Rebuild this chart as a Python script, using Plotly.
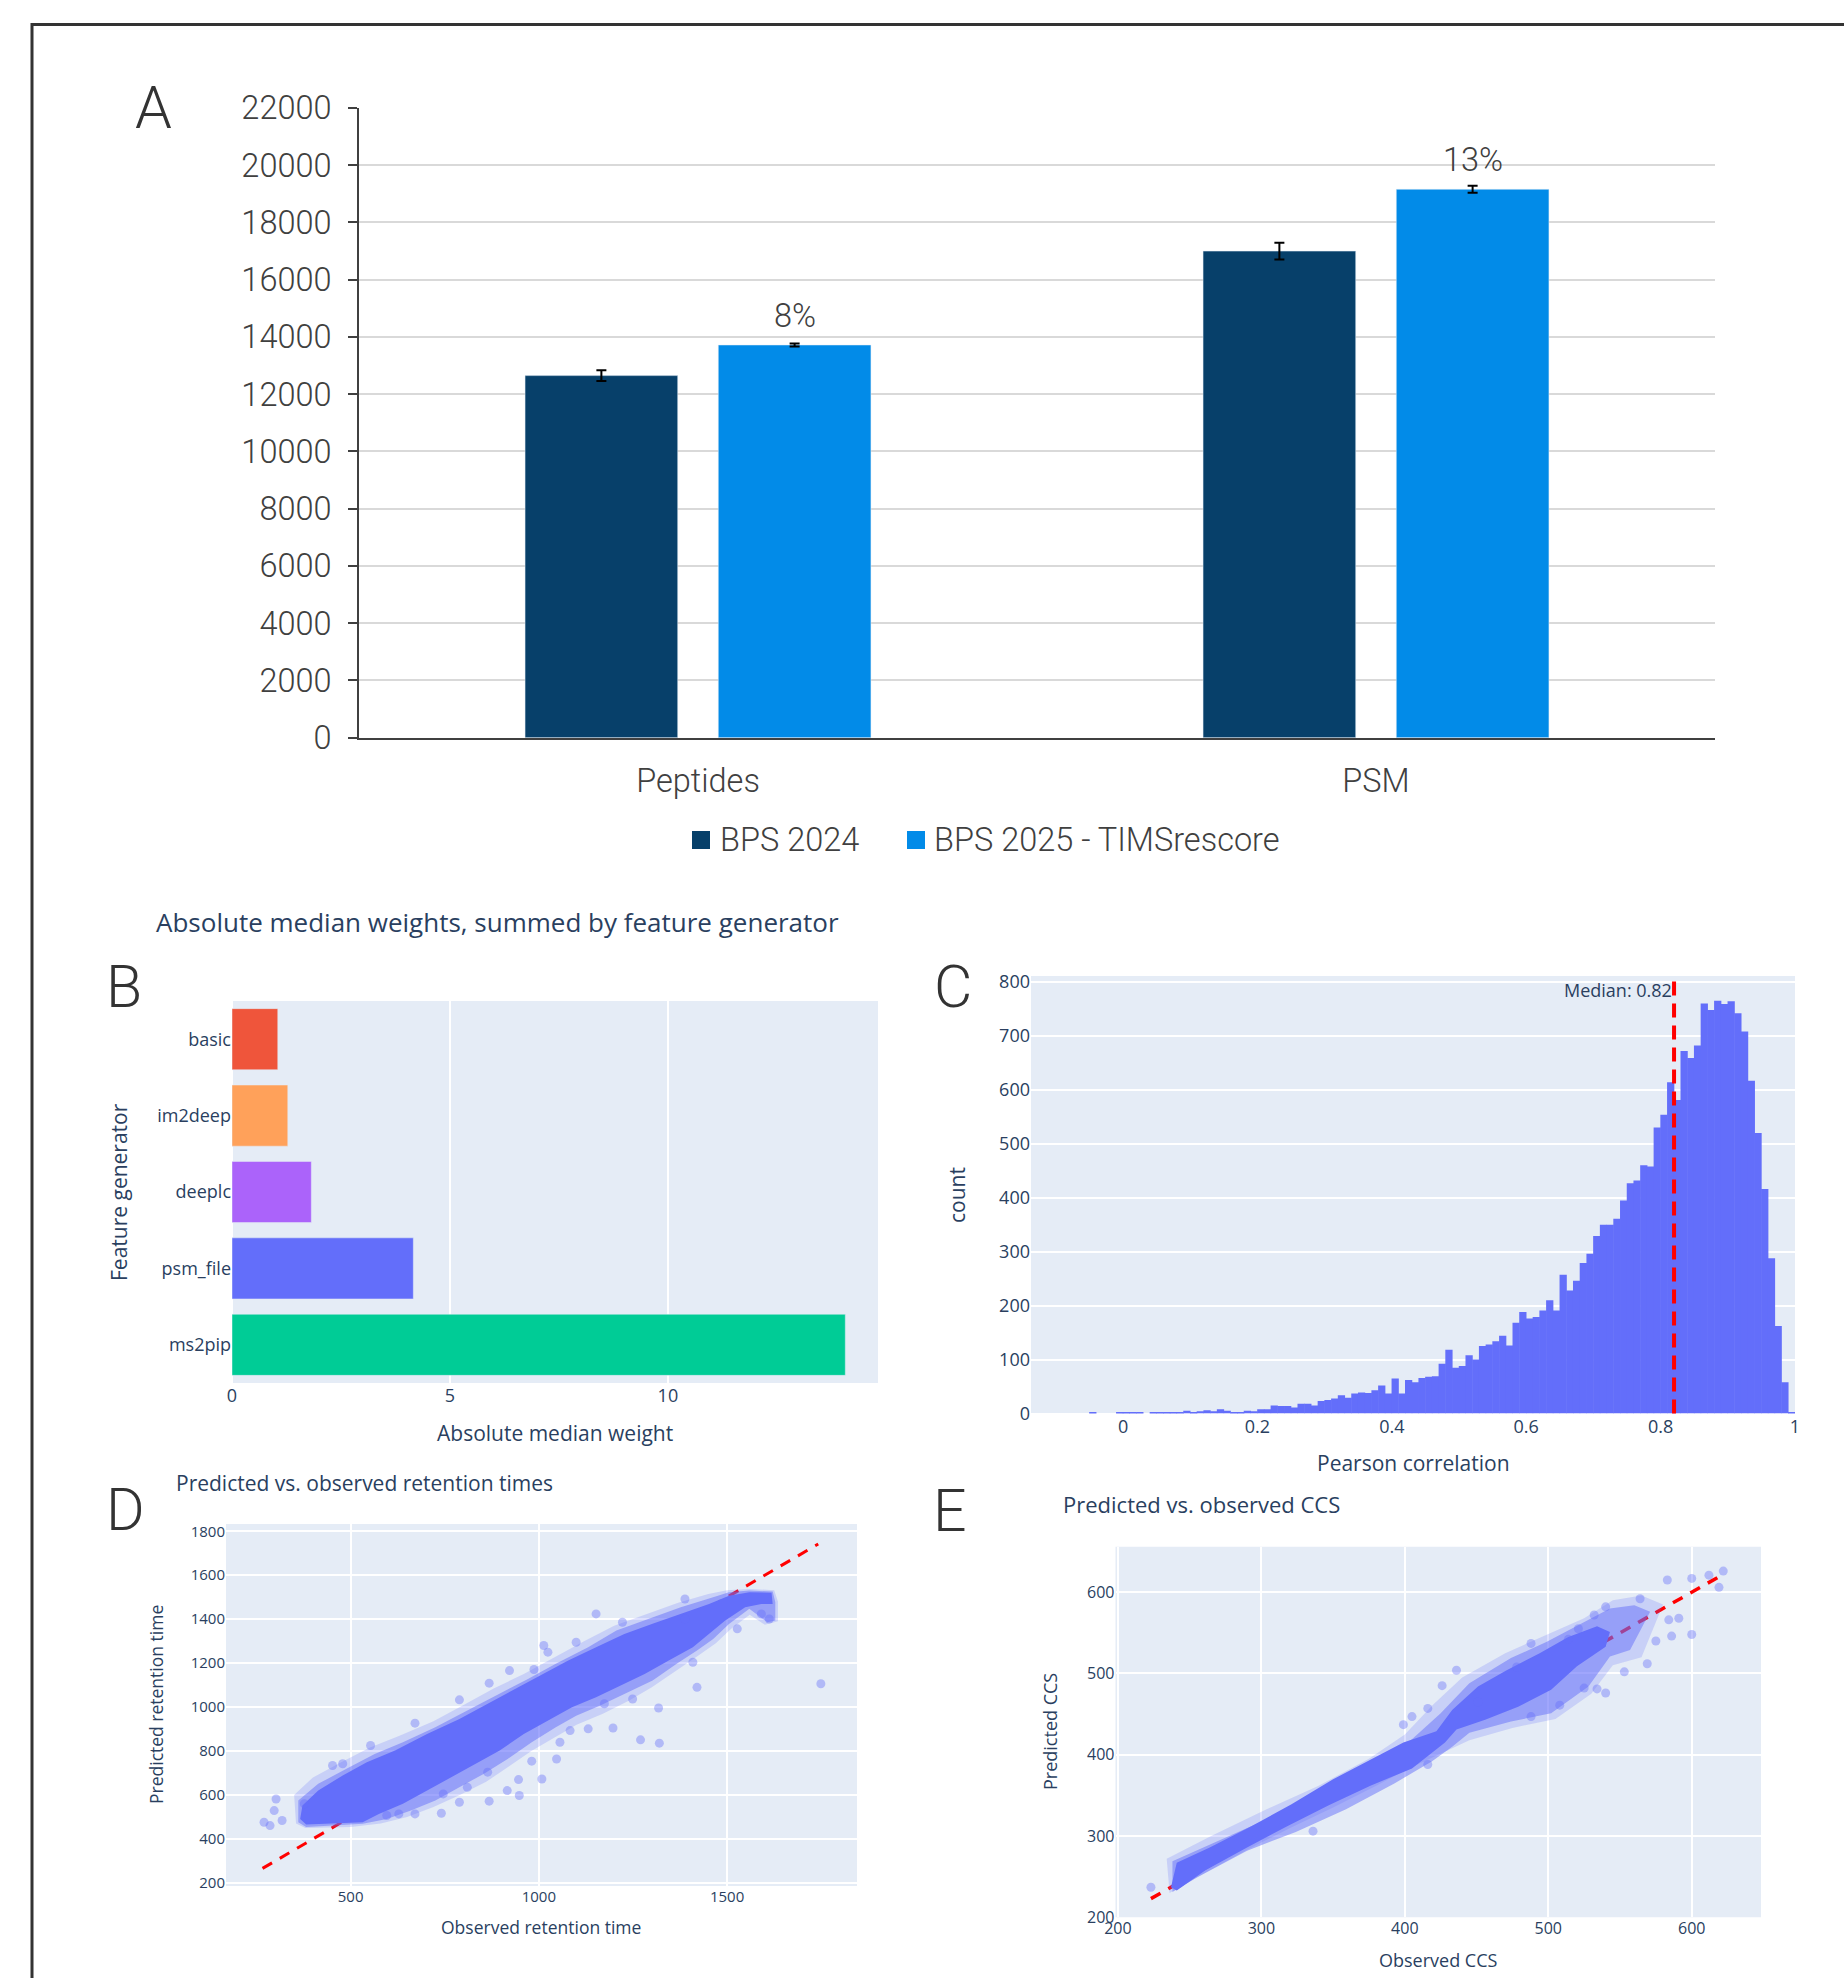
import plotly.graph_objects as go

FIG_W, FIG_H = 1844, 1978


def px_x(v):
    """Horizontal pixel position -> paper fraction."""
    return v / FIG_W


def px_y(v):
    """Vertical pixel position (measured from the top) -> paper fraction."""
    return 1 - v / FIG_H


# ---------------- A: identifications per release ----------------
categories = ["Peptides", "PSM"]
series_names = ["BPS 2024", "BPS 2025 - TIMSrescore"]
bps2024 = [12650, 17000]
bps2024_err = [190, 290]
bps2025 = [13720, 19160]
bps2025_err = [50, 120]

# ---------------- B: feature generator weights ----------------
generators = ["ms2pip", "psm_file", "deeplc", "im2deep", "basic"]
abs_median_weight = [14.07, 4.16, 1.82, 1.28, 1.05]
generator_colors = ["#00CC96", "#636EFA", "#AB63FA", "#FFA15A", "#EF553B"]

# ---------------- C: Pearson correlation histogram ----------------
corr_bin_start = -0.05
corr_bin_width = 0.01
corr_counts = [
    2, 0, 0, 0, 3,                                   # -0.05 .. 0.00
    1, 1, 1, 0, 3, 3, 2, 3, 1, 5,                    # 0.00 .. 0.10
    1, 4, 6, 4, 8, 5, 3, 3, 5, 4,                    # 0.10 .. 0.20
    8, 8, 15, 14, 14, 11, 18, 18, 15, 23,            # 0.20 .. 0.30
    25, 28, 34, 29, 37, 39, 38, 43, 52, 37,          # 0.30 .. 0.40
    65, 37, 62, 58, 66, 68, 69, 92, 118, 85,         # 0.40 .. 0.50
    88, 108, 100, 125, 128, 134, 144, 126, 168, 188,  # 0.50 .. 0.60
    176, 179, 191, 210, 191, 257, 228, 246, 279, 296,  # 0.60 .. 0.70
    329, 350, 350, 361, 395, 427, 432, 460, 458, 530,  # 0.70 .. 0.80
    554, 614, 581, 672, 659, 682, 760, 748, 765, 759,  # 0.80 .. 0.90
    764, 742, 708, 617, 520, 416, 288, 162, 58, 2,     # 0.90 .. 1.00
]
median_corr = 0.82

# ---------------- D: retention time ----------------
rt_diag = [266, 1742]
# dense core of the point cloud (outline, observed / predicted)
rt_core_obs = [372, 414, 479, 543, 618, 703, 789, 864, 939, 1003, 1078, 1152, 1227,
               1302, 1377, 1452, 1505, 1559, 1618, 1621,
               1591, 1548, 1495, 1452, 1409, 1345, 1281, 1227, 1152, 1088, 1024, 960,
               896, 832, 767, 703, 639, 575, 532, 382, 366]
rt_core_pred = [552, 620, 689, 749, 802, 878, 946, 1015, 1083, 1143, 1212, 1272, 1333,
                1379, 1424, 1469, 1507, 1523, 1520, 1469,
                1469, 1454, 1394, 1333, 1272, 1212, 1151, 1106, 1045, 999, 939, 878,
                802, 742, 681, 620, 560, 514, 476, 466, 491]
# sparser fringe around the core
rt_halo_obs = [361, 414, 489, 564, 639, 725, 810, 896, 971, 1045, 1131, 1206, 1291,
               1377, 1463, 1505, 1559, 1621, 1628, 1628,
               1607, 1559, 1505, 1463, 1420, 1366, 1302, 1238, 1163, 1099, 1045, 981,
               917, 853, 789, 725, 660, 596, 532, 382, 361]
rt_halo_pred = [575, 651, 719, 787, 840, 908, 984, 1060, 1128, 1197, 1272, 1348, 1401,
                1454, 1500, 1523, 1530, 1526, 1477, 1394,
                1386, 1447, 1378, 1310, 1257, 1197, 1121, 1068, 1007, 961, 908, 840,
                764, 696, 636, 575, 529, 491, 469, 454, 476]
# faint outermost scatter
rt_outer_obs = [350, 400, 470, 550, 630, 720, 800, 880, 960, 1040, 1120, 1200, 1280,
                1370, 1450, 1500, 1560, 1625, 1635, 1635,
                1600, 1560, 1510, 1470, 1420, 1360, 1300, 1240, 1170, 1100, 1040, 980,
                920, 860, 790, 720, 650, 580, 500, 380, 355]
rt_outer_pred = [600, 680, 745, 815, 870, 935, 1010, 1085, 1150, 1225, 1300, 1370, 1420,
                 1475, 1515, 1532, 1537, 1532, 1480, 1390,
                 1375, 1420, 1355, 1290, 1230, 1160, 1090, 1030, 970, 920, 860, 800,
                 730, 660, 600, 545, 500, 470, 455, 450, 470]
rt_outlier_obs = [270, 286, 297, 302, 318, 377, 452, 479, 553, 671, 789, 868, 922, 987,
                  1013, 1024, 1099, 1152, 1222, 1388, 1527, 1420, 1318, 1749, 1270, 1320,
                  1197, 1131, 1083, 1056, 1047, 1008, 981, 946, 948, 916, 868, 789, 741,
                  671, 628, 596, 864, 810, 746, 1249, 1174, 1409, 1612, 1591, 1388]
rt_outlier_pred = [476, 461, 529, 582, 484, 560, 734, 742, 825, 927, 1033, 1109, 1166, 1171,
                   1280, 1250, 1295, 1424, 1386, 1492, 1356, 1090, 996, 1106, 851, 836,
                   905, 901, 893, 840, 764, 673, 754, 670, 598, 620, 572, 567, 517,
                   514, 514, 507, 704, 635, 605, 1037, 1015, 1204, 1401, 1424, 1401]

# ---------------- E: CCS ----------------
ccs_diag = [223, 621]
ccs_core_obs = [237, 241, 264, 293, 321, 350, 376, 399, 422, 433, 451, 471, 494, 514,
                534, 543,
                540, 520, 502, 479, 456, 436, 428, 405, 376, 347, 318, 290, 261, 241]
ccs_core_pred = [237, 267, 286, 312, 339, 370, 394, 415, 429, 455, 484, 504, 525, 545,
                 558, 551,
                 533, 509, 480, 459, 443, 431, 415, 383, 362, 338, 312, 286, 258, 233]
ccs_halo_obs = [238, 270, 307, 341, 376, 405, 425, 445, 474, 499, 522, 543, 560, 571,
                557, 543, 528, 502, 474, 445, 433, 419, 393, 359, 324, 290, 255, 238]
ccs_halo_pred = [269, 294, 323, 353, 386, 419, 451, 488, 519, 539, 560, 580, 584, 576,
                 529, 521, 484, 451, 441, 427, 410, 392, 365, 333, 305, 282, 249, 231]
ccs_outer_obs = [234, 265, 300, 340, 375, 400, 420, 440, 470, 500, 525, 545, 565, 580,
                 565, 545, 530, 505, 475, 445, 425, 405, 380, 350, 320, 290, 260, 236]
ccs_outer_pred = [272, 300, 330, 362, 395, 425, 462, 495, 525, 548, 568, 590, 596, 585,
                  520, 510, 475, 444, 433, 418, 402, 385, 362, 335, 310, 283, 254, 230]
ccs_outlier_obs = [223, 583, 600, 612, 622, 619, 600, 569, 586, 575, 564, 591, 584, 540,
                   532, 540, 525, 534, 553, 508, 488, 436, 426, 416, 405, 399, 416, 336,
                   488, 514, 478, 451, 521]
ccs_outlier_pred = [237, 615, 617, 621, 626, 606, 548, 512, 546, 540, 592, 568, 566, 582,
                    572, 476, 482, 481, 502, 461, 447, 504, 485, 457, 447, 437, 388, 306,
                    537, 542, 508, 465, 555]

# ---------------- styling ----------------
DARK_BLUE = "#07406A"
LIGHT_BLUE = "#028BE8"
A_TEXT = "#404040"
A_FONT = dict(family="Roboto", size=32.5, color=A_TEXT, weight=300)
PX_FAMILY = '"Open Sans", verdana, arial, sans-serif'
PX_TEXT = "#2a3f5f"
PX_BG = "#E5ECF6"
CLOUD = "#636EFA"


def pxfont(size):
    return dict(family=PX_FAMILY, size=size, color=PX_TEXT)


fig = go.Figure()

# ---- A: grouped bars with error bars ----
fig.add_trace(go.Bar(
    x=categories, y=bps2024, name=series_names[0], marker_color=DARK_BLUE,
    error_y=dict(type="data", array=bps2024_err, color="black", thickness=2, width=5),
    xaxis="x", yaxis="y", showlegend=False))
fig.add_trace(go.Bar(
    x=categories, y=bps2025, name=series_names[1], marker_color=LIGHT_BLUE,
    error_y=dict(type="data", array=bps2025_err, color="black", thickness=2, width=5),
    xaxis="x", yaxis="y", showlegend=False))

# ---- B: horizontal bars ----
fig.add_trace(go.Bar(
    x=abs_median_weight, y=generators, orientation="h", width=0.8,
    marker=dict(color=generator_colors, line=dict(color=PX_BG, width=0.5)),
    xaxis="x2", yaxis="y2", showlegend=False))

# ---- C: binned correlation counts (bars drawn a hair wider to avoid seams) ----
corr_bin_centers = [round(corr_bin_start + (i + 0.5) * corr_bin_width, 3)
                    for i in range(len(corr_counts))]
fig.add_trace(go.Bar(
    x=corr_bin_centers, y=corr_counts, width=corr_bin_width * 1.08,
    marker=dict(color=CLOUD, line=dict(width=0)),
    xaxis="x3", yaxis="y3", showlegend=False))


def add_cloud(xa, ya, diag, outer, halo, core, outliers, diag_width):
    fig.add_trace(go.Scatter(x=diag, y=diag, mode="lines",
                             line=dict(color="red", width=diag_width, dash="11px,9px"),
                             xaxis=xa, yaxis=ya, showlegend=False))
    for (ox, oy), fill in [(outer, "rgba(99,110,250,0.22)"),
                           (halo, "rgba(99,110,250,0.5)"),
                           (core, CLOUD)]:
        fig.add_trace(go.Scatter(x=ox, y=oy, mode="lines", fill="toself",
                                 fillcolor=fill, line=dict(width=0),
                                 xaxis=xa, yaxis=ya, showlegend=False))
    fig.add_trace(go.Scatter(x=outliers[0], y=outliers[1], mode="markers",
                             marker=dict(color=CLOUD, size=9, opacity=0.4),
                             xaxis=xa, yaxis=ya, showlegend=False))


# ---- D: retention time scatter ----
add_cloud("x4", "y4", rt_diag, (rt_outer_obs, rt_outer_pred),
          (rt_halo_obs, rt_halo_pred), (rt_core_obs, rt_core_pred),
          (rt_outlier_obs, rt_outlier_pred), 3)

# ---- E: CCS scatter ----
add_cloud("x5", "y5", ccs_diag, (ccs_outer_obs, ccs_outer_pred),
          (ccs_halo_obs, ccs_halo_pred), (ccs_core_obs, ccs_core_pred),
          (ccs_outlier_obs, ccs_outlier_pred), 3.5)

px_grid = dict(showgrid=True, gridcolor="white", gridwidth=2, showline=False,
               ticks="", automargin=False)

fig.update_layout(
    width=FIG_W, height=FIG_H,
    margin=dict(l=0, r=0, t=0, b=0),
    paper_bgcolor="white", plot_bgcolor="white",
    barmode="group", bargap=0.43, bargroupgap=0.21,
    font=dict(family=PX_FAMILY, color=PX_TEXT),
    xaxis=dict(domain=[px_x(359), px_x(1715)], anchor="y", type="category",
               categoryorder="array", categoryarray=categories,
               showline=True, linecolor=A_TEXT, linewidth=2, ticks="",
               showgrid=False, zeroline=False, tickfont=A_FONT,
               ticklabelstandoff=13, automargin=False),
    yaxis=dict(domain=[px_y(737.7), px_y(108)], anchor="x", range=[0, 22000],
               tick0=0, dtick=2000, tickformat="d",
               showline=True, linecolor=A_TEXT, linewidth=2,
               ticks="outside", ticklen=9, tickwidth=2, tickcolor=A_TEXT,
               showgrid=True, gridcolor="#d9d9d9", gridwidth=2, zeroline=False,
               tickfont=A_FONT, ticklabelstandoff=10, automargin=False),
    xaxis2=dict(domain=[px_x(232), px_x(878)], anchor="y2", range=[0, 14.82],
                tick0=0, dtick=5, zeroline=True, zerolinecolor="white",
                zerolinewidth=2, tickfont=pxfont(18), **px_grid),
    yaxis2=dict(domain=[px_y(1383), px_y(1001)], anchor="x2", type="category",
                categoryorder="array", categoryarray=generators,
                showgrid=False, showline=False, ticks="", zeroline=False,
                tickfont=pxfont(18), automargin=False),
    xaxis3=dict(domain=[px_x(1031), px_x(1795)], anchor="y3", range=[-0.137, 1.0],
                tickvals=[0, 0.2, 0.4, 0.6, 0.8, 1.0],
                ticktext=["0", "0.2", "0.4", "0.6", "0.8", "1"],
                showgrid=False, zeroline=False, showline=False, ticks="",
                tickfont=pxfont(18), automargin=False),
    yaxis3=dict(domain=[px_y(1413.5), px_y(976)], anchor="x3", range=[0, 811],
                tick0=0, dtick=100, zeroline=True, zerolinecolor="white",
                zerolinewidth=2, tickfont=pxfont(18), **px_grid),
    xaxis4=dict(domain=[px_x(226), px_x(857)], anchor="y4", range=[169, 1845],
                tick0=0, dtick=500, zeroline=False, tickfont=pxfont(15), **px_grid),
    yaxis4=dict(domain=[px_y(1886), px_y(1524)], anchor="x4", range=[186, 1833],
                tick0=0, dtick=200, zeroline=False, tickfont=pxfont(15), **px_grid),
    xaxis5=dict(domain=[px_x(1115.5), px_x(1761)], anchor="y5", range=[198.3, 648.3],
                tick0=0, dtick=100, zeroline=False, tickfont=pxfont(16), **px_grid),
    yaxis5=dict(domain=[px_y(1917.3), px_y(1546.7)], anchor="x5", range=[200, 656],
                tick0=0, dtick=100, zeroline=False, tickfont=pxfont(16), **px_grid),
)

shapes = []
# outer frame (open to the right and bottom)
shapes.append(dict(type="rect", xref="paper", yref="paper",
                   x0=px_x(32), x1=1.02, y0=-0.02, y1=px_y(24.5),
                   line=dict(color="#333333", width=3), fillcolor="rgba(0,0,0,0)",
                   layer="above"))
# plot backgrounds of the four lower panels
for ax in ["2", "3", "4", "5"]:
    shapes.append(dict(type="rect", xref=f"x{ax} domain", yref=f"y{ax} domain",
                       x0=0, x1=1, y0=0, y1=1, line=dict(width=0),
                       fillcolor=PX_BG, layer="below"))
# median marker in C
shapes.append(dict(type="line", xref="x3", yref="y3 domain",
                   x0=median_corr, x1=median_corr, y0=0, y1=1,
                   line=dict(color="red", width=4, dash="14px,8px"), layer="above"))
# legend swatches for A
shapes.append(dict(type="rect", xref="paper", yref="paper",
                   x0=px_x(692), x1=px_x(710), y0=px_y(849), y1=px_y(831),
                   line=dict(width=0), fillcolor=DARK_BLUE))
shapes.append(dict(type="rect", xref="paper", yref="paper",
                   x0=px_x(907), x1=px_x(925), y0=px_y(849), y1=px_y(831),
                   line=dict(width=0), fillcolor=LIGHT_BLUE))

annotations = []


def note(text, x, y, font, xanchor="center", yanchor="middle", textangle=0):
    annotations.append(dict(text=text, x=px_x(x), y=px_y(y), xref="paper",
                            yref="paper", xanchor=xanchor, yanchor=yanchor,
                            showarrow=False, font=font, textangle=textangle))


# panel letters
letter_font = dict(family="Roboto", size=59, color="#333333", weight=300)
note("A", 153, 107, letter_font)
note("B", 124, 986, letter_font)
note("C", 953, 986, letter_font)
note("D", 125, 1509, letter_font)
note("E", 950, 1510, letter_font)

# legend labels for A
note(series_names[0], 718, 840, A_FONT, xanchor="left")
note(series_names[1], 932, 840, A_FONT, xanchor="left")

# relative gain above the TIMSrescore bars
group_offset = (1 - 0.43) / 4
for i, (old, new) in enumerate(zip(bps2024, bps2025)):
    gain = round((new / old - 1) * 100)
    annotations.append(dict(text=f"{gain}%", x=i + group_offset, y=new, xref="x",
                            yref="y", xanchor="center", yanchor="middle", yshift=29,
                            showarrow=False, font=A_FONT))

# panel titles
note("Absolute median weights, summed by feature generator", 154, 922,
     pxfont(26), xanchor="left")
note("Predicted vs. observed retention times", 174, 1483, pxfont(21), xanchor="left")
note("Predicted vs. observed CCS", 1061, 1504, pxfont(22), xanchor="left")

# axis titles
note("Absolute median weight", 555, 1433, pxfont(21))
note("Feature generator", 119, 1192, pxfont(21), textangle=-90)
note("Pearson correlation", 1413, 1463, pxfont(21))
note("count", 957, 1195, pxfont(21), textangle=-90)
note("Observed retention time", 541, 1927, pxfont(17.5))
note("Predicted retention time", 156, 1705, pxfont(17.5), textangle=-90)
note("Observed CCS", 1438, 1960, pxfont(18))
note("Predicted CCS", 1050, 1732, pxfont(18), textangle=-90)

# median label
annotations.append(dict(text=f"Median: {median_corr:.2f}", x=median_corr, y=1,
                        xref="x3", yref="y3 domain", xanchor="right", yanchor="top",
                        showarrow=False, font=pxfont(18)))

fig.update_layout(shapes=shapes, annotations=annotations)

fig.write_html("out.html")
